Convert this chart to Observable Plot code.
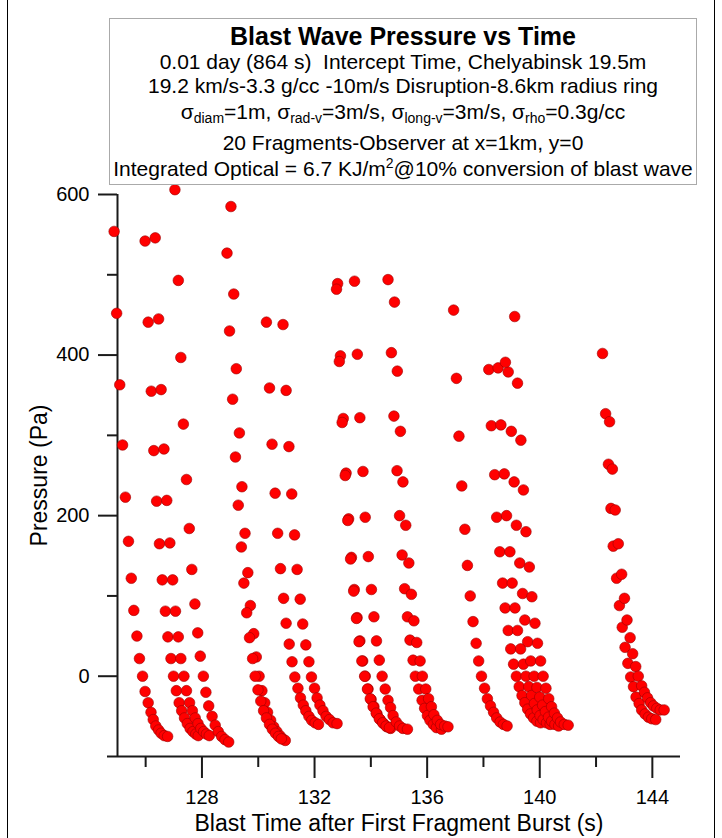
<!DOCTYPE html>
<html>
<head>
<meta charset="utf-8">
<script src="https://cdn.jsdelivr.net/npm/d3@7"></script>
<script src="https://cdn.jsdelivr.net/npm/@observablehq/plot@0.6"></script>
<style>
  body { margin: 0; background: #fff; font-family: "Liberation Sans", Arial, sans-serif; }
  #wrap { position: relative; width: 722px; height: 838px; overflow: hidden; background: #fff; }
  #frame { position: absolute; left: 7px; top: -4px; width: 706px; height: 844px; border: 1.5px solid #000; pointer-events: none; }
  #box { position: absolute; left: 109px; top: 18px; width: 588px; height: 167px; border: 1px solid #aaa; background: #fff; text-align: center; color: #000; box-sizing: border-box; }
  #box div { position: absolute; left: 0; right: 0; height: 26px; line-height: 26px; white-space: nowrap; font-size: 21px; }
  #box .t { font-weight: bold; font-size: 25px; }
  #box sub { font-size: 14px; vertical-align: -4px; line-height: 0; }
  #box sup { font-size: 14px; vertical-align: 8px; line-height: 0; }
</style>
</head>
<body>
<div id="wrap">
  <div id="chart"></div>
  <div id="box">
    <div class="t" style="top:4px">Blast Wave Pressure vs Time</div>
    <div style="top:30px">0.01 day (864 s)&nbsp; Intercept Time, Chelyabinsk 19.5m</div>
    <div style="top:54px">19.2 km/s-3.3 g/cc -10m/s Disruption-8.6km radius ring</div>
    <div style="top:80px">σ<sub>diam</sub>=1m, σ<sub>rad-v</sub>=3m/s, σ<sub>long-v</sub>=3m/s, σ<sub>rho</sub>=0.3g/cc</div>
    <div style="top:111px">20 Fragments-Observer at x=1km, y=0</div>
    <div style="top:137px">Integrated Optical = 6.7 KJ/m<sup>2</sup>@10% conversion of blast wave</div>
  </div>
  <div id="frame"></div>
</div>
<script>
// ---- tick values ----
const xMajorTicks = [128, 132, 136, 140, 144];
const xMinorTicks = [126, 130, 134, 138, 142];
const yMajorTicks = [0, 200, 400, 600];
const yMinorTicks = [-100, 100, 300, 500];

// ---- fragment blast-wave samples: time (s) and pressure (Pa) ----
const A_t = [124.88,124.97,125.08,125.18,125.28,125.39,125.49,125.58,125.69,125.78,125.89,125.98,126.09,126.19,126.27,126.36,126.46,126.55,126.66,126.78];
const A_p = [554,452,363,288,223,168,122,82,50,22,0,-19,-33,-45,-54,-62,-67,-71,-74,-75];
const B_t = [125.98,126.09,126.20,126.29,126.39,126.49,126.59,126.70,126.79,126.90,126.99,127.09,127.19,127.28,127.38,127.48,127.58,127.68,127.78,127.87];
const B_p = [542,441,355,281,218,165,120,81,49,22,0,-18,-33,-43,-52,-59,-65,-69,-72,-74];
const C_t = [126.34,126.46,126.55,126.65,126.75,126.86,126.96,127.06,127.16,127.25,127.36,127.45,127.56,127.66,127.76,127.86,127.96,128.06,128.16,128.26];
const C_p = [546,445,357,283,219,166,120,81,49,22,0,-18,-33,-43,-52,-59,-65,-69,-72,-74];
const D_t = [127.04,127.16,127.25,127.34,127.45,127.55,127.64,127.75,127.85,127.94,128.05,128.14,128.24,128.36,128.47,128.58,128.70,128.82,128.95];
const D_p = [606,493,397,314,245,184,133,90,54,25,0,-20,-37,-50,-61,-69,-75,-79,-82];
const E_t = [129.03,129.13,129.22,129.33,129.42,129.53,129.63,129.72,129.84,129.93,130.03,130.13,130.23,130.33,130.44,130.55,130.66,130.77,130.87,130.96];
const E_p = [585,476,383,303,236,178,129,88,53,24,0,-18,-33,-45,-55,-63,-69,-74,-78,-80];
const F_t = [128.89,128.98,129.09,129.19,129.29,129.40,129.49,129.59,129.69,129.80,129.89,129.99,130.09,130.19,130.29,130.40,130.50,130.61,130.72,130.82];
const F_p = [527,430,345,273,213,161,116,79,48,22,0,-17,-31,-43,-52,-60,-66,-71,-75,-78];
const G_t = [130.29,130.40,130.49,130.60,130.69,130.79,130.90,130.99,131.10,131.20,131.30,131.41,131.50,131.60,131.69,131.80,131.90,132.02,132.14];
const G_p = [441,359,289,228,178,134,97,66,40,18,-1,-15,-27,-36,-43,-50,-55,-58,-60];
const H_t = [130.88,130.99,131.09,131.19,131.29,131.38,131.49,131.58,131.69,131.80,131.89,132.00,132.09,132.19,132.30,132.41,132.53,132.66,132.80];
const H_p = [438,356,286,227,176,133,96,65,39,18,-1,-15,-27,-36,-43,-50,-54,-58,-59];
const I_t = [132.82,132.92,133.02,133.12,133.21,133.31,133.41,133.51,133.61,133.71,133.80,133.90,134.01,134.11,134.22,134.33,134.45,134.57,134.70];
const I_p = [489,399,321,253,196,148,108,73,44,19,0,-16,-29,-38,-47,-54,-59,-63,-65];
const J_t = [132.78,132.88,132.98,133.09,133.18,133.28,133.39,133.49,133.58,133.68,133.78,133.88,133.98,134.08,134.19,134.30,134.42,134.54,134.66];
const J_p = [482,392,316,250,194,146,106,72,43,19,0,-16,-28,-38,-46,-53,-58,-62,-64];
const K_t = [133.42,133.52,133.61,133.72,133.80,133.91,134.02,134.11,134.20,134.30,134.40,134.51,134.61,134.70,134.79,134.90,135.02,135.14,135.30];
const K_p = [492,401,322,255,198,149,108,74,44,20,0,-16,-30,-39,-49,-57,-62,-65,-66];
const L_t = [134.61,134.73,134.82,134.93,135.02,135.11,135.20,135.30,135.39,135.50,135.58,135.70,135.82,135.91,136.01,136.10,136.22,136.33,136.51];
const L_p = [494,403,324,256,200,151,109,74,45,20,0,-16,-30,-40,-49,-55,-60,-64,-66];
const M_t = [134.84,134.94,135.05,135.14,135.24,135.35,135.44,135.53,135.63,135.75,135.83,135.95,136.05,136.15,136.24,136.36,136.48,136.62,136.74];
const M_p = [466,380,305,242,188,141,102,69,42,19,0,-16,-28,-38,-48,-55,-60,-62,-63];
const N_t = [136.94,137.04,137.13,137.23,137.34,137.43,137.53,137.63,137.74,137.83,137.93,138.04,138.14,138.25,138.36,138.47,138.59,138.71,138.84];
const N_p = [456,371,299,237,183,138,100,68,41,19,0,-15,-28,-37,-45,-52,-57,-60,-62];
const O_t = [138.19,138.28,138.40,138.47,138.58,138.68,138.77,138.88,138.97,139.07,139.17,139.27,139.37,139.47,139.57,139.67,139.78,139.90,140.03];
const O_p = [382,312,251,198,155,116,85,57,34,15,0,-13,-24,-33,-41,-47,-52,-56,-58];
const P_t = [138.52,138.62,138.74,138.82,138.94,139.02,139.12,139.21,139.32,139.42,139.51,139.61,139.71,139.81,139.91,140.01,140.12,140.24,140.37];
const P_p = [384,313,252,200,155,116,85,57,34,15,0,-13,-24,-34,-42,-49,-54,-58,-60];
const Q_t = [138.88,138.99,139.09,139.17,139.29,139.39,139.47,139.57,139.68,139.80,139.90,140.00,140.10,140.20,140.31,140.42,140.54,140.67];
const Q_p = [379,305,242,188,141,103,70,43,19,0,-14,-26,-36,-44,-51,-56,-60,-62];
const R_t = [139.11,139.21,139.33,139.42,139.51,139.63,139.72,139.83,139.92,140.03,140.12,140.22,140.32,140.42,140.52,140.63,140.74,140.87,141.01];
const R_p = [448,365,294,232,180,136,99,66,41,19,0,-15,-28,-38,-46,-52,-57,-60,-61];
const T_t = [138.78];
const T_p = [391];
const U_t = [142.23,142.34,142.44,142.53,142.61,142.73,142.83,142.93,143.03,143.13,143.23,143.33,143.42,143.53,143.62,143.74,143.86,143.98,144.12];
const U_p = [402,327,264,209,162,122,88,61,36,16,-1,-13,-26,-34,-42,-47,-51,-53,-54];
const V_t = [142.48,142.58,142.68,142.79,142.91,143.01,143.10,143.21,143.30,143.41,143.50,143.62,143.72,143.83,143.94,144.04,144.16,144.28,144.42];
const V_p = [317,258,207,165,127,97,70,48,28,12,0,-12,-20,-27,-33,-37,-40,-42,-42];

const fragments = [
  ["A", A_t, A_p], ["B", B_t, B_p], ["C", C_t, C_p], ["D", D_t, D_p],
  ["E", E_t, E_p], ["F", F_t, F_p], ["G", G_t, G_p], ["H", H_t, H_p],
  ["I", I_t, I_p], ["J", J_t, J_p], ["K", K_t, K_p], ["L", L_t, L_p],
  ["M", M_t, M_p], ["N", N_t, N_p], ["O", O_t, O_p], ["P", P_t, P_p],
  ["Q", Q_t, Q_p], ["R", R_t, R_p], ["T", T_t, T_p], ["U", U_t, U_p],
  ["V", V_t, V_p]
];
const data = fragments.flatMap(([frag, ts, ps]) => ts.map((t, i) => ({frag, t, p: ps[i]})));

const axisColor = "#1a1a1a";
const chart = Plot.plot({
  width: 722,
  height: 838,
  marginLeft: 117,
  marginRight: 42,
  marginTop: 194,
  marginBottom: 82,
  x: {domain: [125, 145]},
  y: {domain: [-100, 600]},
  style: {fontFamily: '"Liberation Sans", Arial, sans-serif', color: "#000", background: "transparent", overflow: "visible"},
  marks: [
    Plot.axisY(yMajorTicks, {tickSize: 19, tickPadding: 9, fontSize: 20, stroke: axisColor, strokeWidth: 2, label: null, tickFormat: d => String(d)}),
    Plot.axisY(yMinorTicks, {tickSize: 10, stroke: axisColor, strokeWidth: 2, label: null, tickFormat: () => ""}),
    Plot.axisX(xMajorTicks, {tickSize: 22, tickPadding: 11, fontSize: 20, stroke: axisColor, strokeWidth: 2, label: null, tickFormat: d => String(d)}),
    Plot.axisX(xMinorTicks, {tickSize: 11, stroke: axisColor, strokeWidth: 2, label: null, tickFormat: () => ""}),
    Plot.ruleX([125], {stroke: axisColor, strokeWidth: 2}),
    Plot.ruleY([-100], {stroke: axisColor, strokeWidth: 2}),
    Plot.dot(data, {x: "t", y: "p", r: 5.3, fill: "#ff0000", stroke: "#9a0000", strokeWidth: 0.6}),
    Plot.text(["Pressure (Pa)"], {frameAnchor: "left", textAnchor: "middle", lineAnchor: "middle", rotate: -90, dx: -78, fontSize: 23, fill: "#000"}),
    Plot.text(["Blast Time after First Fragment Burst (s)"], {frameAnchor: "bottom", textAnchor: "middle", lineAnchor: "middle", dy: 67, fontSize: 23, fill: "#000"})
  ]
});
document.getElementById("chart").appendChild(chart);
</script>
</body>
</html>
